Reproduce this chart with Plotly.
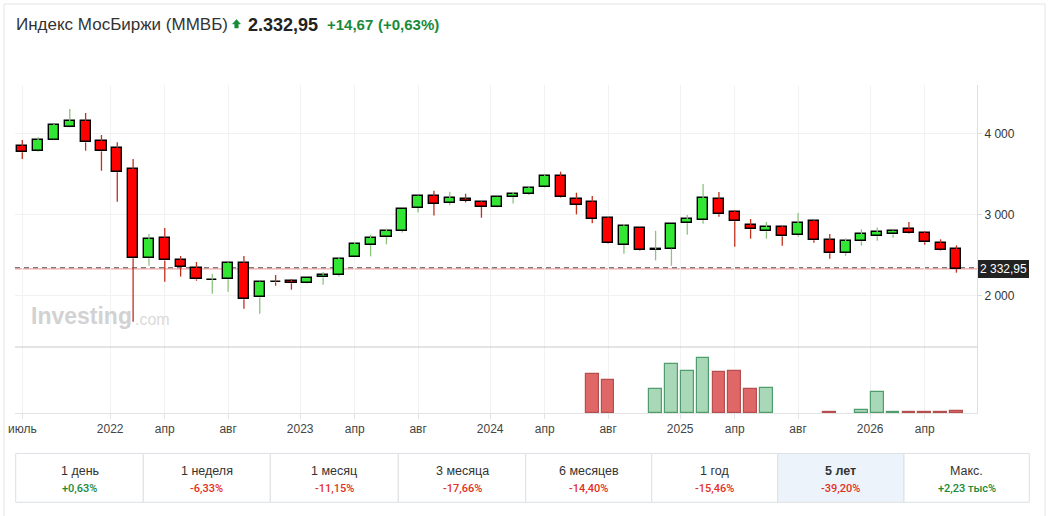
import pandas as pd
import plotly.graph_objects as go

# ---------------- data ----------------
months = [p.strftime("%Y-%m") for p in pd.period_range("2021-07", "2026-06", freq="M")]

open_ = [3844, 3786, 3922, 4073, 4147, 3901, 3815, 3557, 2462, 2708,
         2437, 2339, 2194, 2204, 2401, 1982, 2170, 2179, 2155, 2228,
         2256, 2478, 2625, 2724, 2798, 3081, 3228, 3142, 3191, 3155,
         3093, 3216, 3253, 3339, 3475, 3191, 3155, 2958, 2626, 2836,
         2568, 2581, 2893, 2930, 3188, 3028, 2868, 2794, 2843, 2745,
         2917, 2684, 2524, 2671, 2733, 2757, 2819, 2770, 2647, 2573]
high = [3918, 3954, 4114, 4299, 4250, 3979, 3889, 3684, 2761, 2835,
        2491, 2417, 2269, 2413, 2491, 2179, 2257, 2208, 2220, 2294,
        2470, 2662, 2753, 2826, 3070, 3235, 3294, 3282, 3257, 3167,
        3220, 3282, 3343, 3491, 3528, 3270, 3229, 2970, 2885, 2840,
        2802, 2885, 2995, 3376, 3278, 3057, 2946, 2909, 2860, 3020,
        2930, 2761, 2708, 2819, 2843, 2806, 2909, 2794, 2696, 2622]
low = [3684, 3774, 3915, 4070, 3786, 3540, 3159, 1683, 2372, 2175,
       2237, 2187, 2027, 2052, 1843, 1781, 2126, 2077, 2150, 2138,
       2240, 2475, 2486, 2634, 2781, 3027, 2990, 3114, 3150, 2962,
       3090, 3138, 3241, 3335, 3210, 3003, 2893, 2645, 2519, 2560,
       2437, 2372, 2753, 2889, 2975, 2606, 2704, 2704, 2618, 2729,
       2655, 2458, 2495, 2618, 2679, 2716, 2765, 2630, 2555, 2286]
close = [3766, 3913, 4098, 4147, 3889, 3778, 3520, 2462, 2696, 2437,
         2351, 2204, 2198, 2401, 1958, 2167, 2166, 2155, 2216, 2253,
         2453, 2638, 2712, 2798, 3068, 3228, 3130, 3204, 3167, 3093,
         3216, 3253, 3327, 3475, 3216, 3118, 2946, 2651, 2860, 2565,
         2573, 2880, 2942, 3200, 3003, 2917, 2819, 2843, 2733, 2893,
         2684, 2524, 2671, 2757, 2782, 2794, 2770, 2659, 2561, 2332.95]
# relative volume (arbitrary units), None = no data
volume = [None] * 36 + [116, 100, None, None, 73, 148, 127, 166, 124, 127,
                        73, 76, None, None, None, 2, None, 10, 64, 2,
                        2, 2, 2, 5]

y_ticks = [2000, 3000, 4000]
y_tick_labels = ["2 000", "3 000", "4 000"]
x_tick_months = ["2021-07", "2022-01", "2022-04", "2022-08", "2023-01", "2023-04",
                 "2023-08", "2024-01", "2024-04", "2024-08", "2025-01", "2025-04",
                 "2025-08", "2026-01", "2026-04"]
x_tick_labels = ["июль", "2022", "апр", "авг", "2023", "апр", "авг", "2024", "апр",
                 "авг", "2025", "апр", "авг", "2026", "апр"]

last_price = 2332.95
last_price_label = "2 332,95"
title_name = "Индекс МосБиржи (ММВБ)"
title_price = "2.332,95"
title_change = "+14,67"
title_pct = "(+0,63%)"
periods = ["1 день", "1 неделя", "1 месяц", "3 месяца", "6 месяцев", "1 год", "5 лет", "Макс."]
period_changes = ["+0,63%", "-6,33%", "-11,15%", "-17,66%", "-14,40%", "-15,46%", "-39,20%", "+2,23 тыс%"]
selected_period = "5 лет"

# ---------------- styles ----------------
W, H = 1049, 516
GREEN_BODY = "#33e633"
RED_BODY = "#ff0000"
GREEN_WICK = "#8cc47c"
RED_WICK = "#c0301c"
VOL_RED, VOL_RED_LINE = "#e06767", "#b54f4f"
VOL_GREEN, VOL_GREEN_LINE = "#a8d8b8", "#4f9c6c"
TXT_GREEN = "#1a8a3a"
TXT_RED = "#e3301e"
FONT = "Liberation Sans, Arial, sans-serif"


def px(x):
    return x / W


def py(y):
    return 1 - y / H


idx = list(range(len(months)))
up = [c >= o for o, c in zip(open_, close)]

# bodies
body_base = [min(o, c) for o, c in zip(open_, close)]
body_h = [max(abs(c - o), 5) for o, c in zip(open_, close)]
body_col = [GREEN_BODY if u else RED_BODY for u in up]

fig = go.Figure()

fig.add_trace(go.Bar(
    x=idx, y=body_h, base=body_base, width=0.64,
    marker=dict(color=body_col, line=dict(color="#000000", width=1.4)),
    xaxis="x", yaxis="y", hoverinfo="skip", showlegend=False))

# wicks (segments outside the body)
for flag, col in ((True, GREEN_WICK), (False, RED_WICK)):
    wx, wy = [], []
    for i in idx:
        if up[i] != flag:
            continue
        top = max(open_[i], close[i])
        bot = min(open_[i], close[i])
        wx += [i, i, None, i, i, None]
        wy += [top, high[i], None, low[i], bot, None]
    fig.add_trace(go.Scatter(x=wx, y=wy, mode="lines", line=dict(color=col, width=1.3),
                             xaxis="x", yaxis="y", hoverinfo="skip", showlegend=False,
                             connectgaps=False))

# volume
vol_col = [VOL_GREEN if u else VOL_RED for u in up]
vol_line = [VOL_GREEN_LINE if u else VOL_RED_LINE for u in up]
fig.add_trace(go.Bar(
    x=idx, y=volume, width=0.8,
    marker=dict(color=vol_col, line=dict(color=vol_line, width=1.2)),
    xaxis="x", yaxis="y2", hoverinfo="skip", showlegend=False))

# x tick positions: month ticks on candles, year ticks slightly before
tick_pos = [months.index(m) - (0.45 if lab.isdigit() else 0.0)
            for m, lab in zip(x_tick_months, x_tick_labels)]

vmax = max(v for v in volume if v is not None)

fig.update_layout(
    width=W, height=H, autosize=False,
    margin=dict(l=0, r=0, t=0, b=0, pad=0),
    paper_bgcolor="white", plot_bgcolor="white",
    barmode="overlay", bargap=0,
    font=dict(family=FONT, color="#333333", size=12),
    xaxis=dict(domain=[px(15), px(977)], range=[-0.46, 60.3], anchor="y2",
               automargin=False,
               tickmode="array", tickvals=tick_pos, ticktext=x_tick_labels,
               showgrid=True, gridcolor="#f2f2f2", gridwidth=1,
               ticks="outside", ticklen=5, tickcolor="#e2e2e2",
               showline=True, linecolor="#e3e3e3", linewidth=1,
               tickfont=dict(size=12, color="#444444"), zeroline=False,
               fixedrange=True),
    yaxis=dict(domain=[py(347), py(85)], range=[1372, 4594], anchor="x", side="right",
               automargin=False,
               tickmode="array", tickvals=y_ticks, ticktext=y_tick_labels,
               showgrid=True, gridcolor="#f1f1f1", zeroline=False,
               ticks="outside", ticklen=4, tickcolor="#d8dbe0",
               showline=True, linecolor="#dcdfe3", linewidth=1,
               tickfont=dict(size=12, color="#333333")),
    yaxis2=dict(domain=[py(413), py(347)], range=[0, vmax * 66 / 55.4], anchor="x",
                automargin=False,
                side="right", showticklabels=False, showgrid=False, zeroline=False,
                showline=True, linecolor="#dcdfe3", linewidth=1, ticks=""),
)

shapes = []
# card border
shapes.append(dict(type="rect", xref="paper", yref="paper", x0=px(4), x1=px(1045),
                   y0=py(530), y1=py(4), line=dict(color="#e4e4e4", width=1),
                   fillcolor="rgba(0,0,0,0)", layer="below"))
# price pane bottom separator
shapes.append(dict(type="line", xref="paper", yref="paper", x0=px(15), x1=px(977),
                   y0=py(347), y1=py(347), line=dict(color="#c9c9c9", width=1)))
# last price lines
shapes.append(dict(type="line", xref="paper", yref="y", x0=px(15), x1=px(982),
                   y0=last_price, y1=last_price, line=dict(color="#f4a4a4", width=1.2),
                   layer="below"))
shapes.append(dict(type="line", xref="paper", yref="y", x0=px(15), x1=px(977),
                   y0=last_price + 14, y1=last_price + 14,
                   line=dict(color="#555555", width=1, dash="5px,4px"), layer="below"))

# green up arrow icon in the title
ax, ay = 236.5, 24.0
arrow_pts = [(ax, ay - 4.5), (ax + 4, ay), (ax + 1.8, ay), (ax + 1.8, ay + 4),
             (ax - 1.8, ay + 4), (ax - 1.8, ay), (ax - 4, ay)]
path = "M " + " L ".join(f"{px(x):.5f},{py(y):.5f}" for x, y in arrow_pts) + " Z"
shapes.append(dict(type="path", xref="paper", yref="paper", path=path,
                   fillcolor=TXT_GREEN, line=dict(color=TXT_GREEN, width=0.5)))

# period buttons
cell_edges = [15.7, 143.3, 270.3, 398.3, 525.7, 651.7, 777.7, 904, 1029.3]
annotations = []
for k, (name, chg) in enumerate(zip(periods, period_changes)):
    x0, x1 = cell_edges[k], cell_edges[k + 1]
    sel = name == selected_period
    shapes.append(dict(type="rect", xref="paper", yref="paper", x0=px(x0), x1=px(x1),
                       y0=py(502.3), y1=py(453.5),
                       line=dict(color="#dde0e4", width=1),
                       fillcolor="#edf3fa" if sel else "white", layer="below"))
    xc = (x0 + x1) / 2
    annotations.append(dict(xref="paper", yref="paper", x=px(xc), y=py(470.5),
                            text=f"<b>{name}</b>" if sel else name, showarrow=False,
                            font=dict(size=12.5, color="#333333", family=FONT),
                            xanchor="center", yanchor="middle"))
    annotations.append(dict(xref="paper", yref="paper", x=px(xc), y=py(488),
                            text=chg, showarrow=False,
                            font=dict(size=11, color=TXT_GREEN if chg.startswith("+") else TXT_RED,
                                      family="Roboto, " + FONT, weight=500),
                            xanchor="center", yanchor="middle"))

# title
annotations += [
    dict(xref="paper", yref="paper", x=px(14), y=py(25), text=title_name, showarrow=False,
         font=dict(size=17, color="#333333", family=FONT), xanchor="left", yanchor="middle"),
    dict(xref="paper", yref="paper", x=px(246), y=py(25), text=f"<b>{title_price}</b>",
         showarrow=False, font=dict(size=18, color="#222222", family=FONT),
         xanchor="left", yanchor="middle"),
    dict(xref="paper", yref="paper", x=px(325), y=py(25), text=f"<b>{title_change}</b>",
         showarrow=False, font=dict(size=15, color=TXT_GREEN, family=FONT),
         xanchor="left", yanchor="middle"),
    dict(xref="paper", yref="paper", x=px(376), y=py(25), text=f"<b>{title_pct}</b>",
         showarrow=False, font=dict(size=15, color=TXT_GREEN, family=FONT),
         xanchor="left", yanchor="middle"),
    # watermark
    dict(xref="paper", yref="paper", x=px(29), y=py(316), text="<b>Investing</b>",
         showarrow=False, font=dict(size=23, color="#d2d2d2", family=FONT),
         xanchor="left", yanchor="middle"),
    dict(xref="paper", yref="paper", x=px(133), y=py(319), text=".com",
         showarrow=False, font=dict(size=16, color="#dadada", family=FONT),
         xanchor="left", yanchor="middle"),
    # last price label
    dict(xref="paper", yref="y", x=px(978), y=last_price, text=last_price_label, showarrow=False,
         font=dict(size=12, color="white", family=FONT), bgcolor="#222222",
         bordercolor="#222222", borderpad=1, xanchor="left", yanchor="middle"),
]

fig.update_layout(shapes=shapes, annotations=annotations)
fig.write_html("out.html")
